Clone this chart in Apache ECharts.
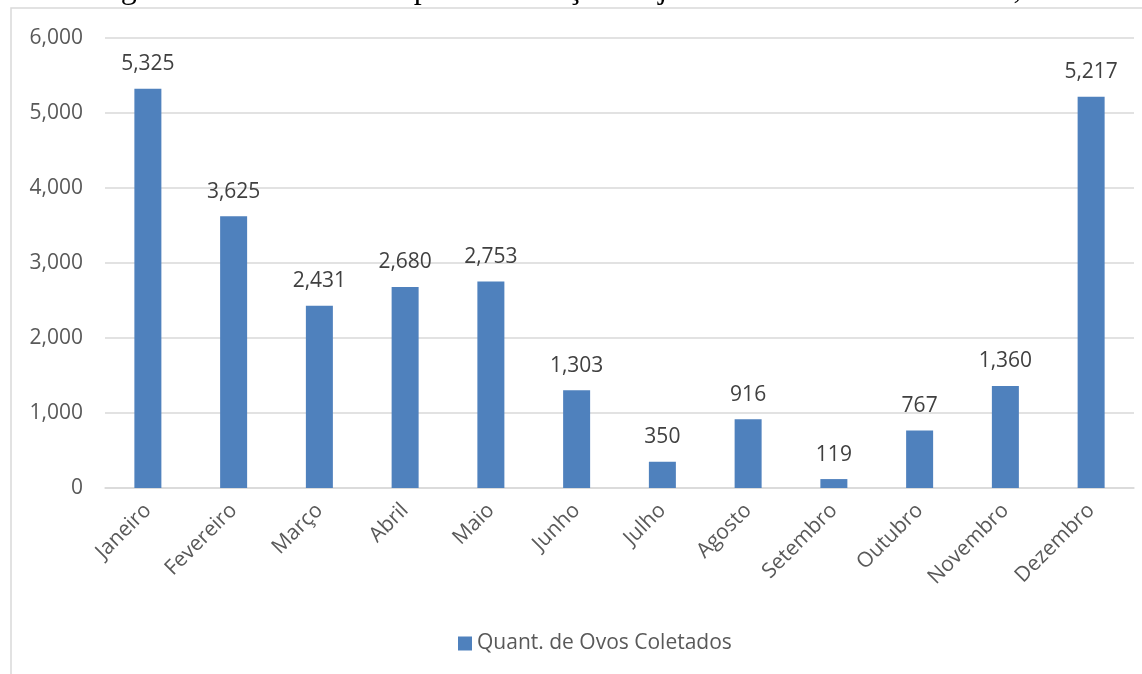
<!DOCTYPE html>
<html>
<head>
<meta charset="utf-8">
<script src="https://cdn.jsdelivr.net/npm/echarts@6/dist/echarts.min.js"></script>
<style>
  html, body { margin: 0; padding: 0; background: #fff; }
  #main { width: 1142px; height: 674px; }
</style>
</head>
<body>
<div id="main"></div>
<script>
var meses = ['Janeiro', 'Fevereiro', 'Março', 'Abril', 'Maio', 'Junho',
  'Julho', 'Agosto', 'Setembro', 'Outubro', 'Novembro', 'Dezembro']
var ovos = [5325, 3625, 2431, 2680, 2753, 1303, 350, 916, 119, 767, 1360, 5217]
var serieNome = 'Quant. de Ovos Coletados'
var legenda = 'a Contagem de ovos realizada pela associação de janeiro a dezembro de 2023, no na'

var fonte = '"Open Sans", "Noto Sans", sans-serif'
var fmt = function (v) {
  return String(v).replace(/\B(?=(\d{3})+(?!\d))/g, ',')
}

var chartDom = document.getElementById('main')
var myChart = echarts.init(chartDom)
var option

option = {
  backgroundColor: '#ffffff',
  animation: false,
  textStyle: { fontFamily: fonte },
  graphic: [
    {
      type: 'rect',
      shape: { x: 11, y: 8, width: 1200, height: 720 },
      style: { fill: 'none', stroke: '#d9d9d9', lineWidth: 1.5 },
      silent: true,
    },
    {
      type: 'text',
      left: 22,
      top: -26,
      style: {
        text: legenda,
        font: '32px "Liberation Serif", serif',
        fill: '#000000',
      },
      silent: true,
    },
  ],
  grid: {
    left: 105,
    right: 8,
    top: 38,
    bottom: 186,
    containLabel: false,
  },
  legend: {
    left: 453,
    top: 628,
    icon: 'rect',
    itemWidth: 14,
    itemHeight: 14,
    textStyle: { color: '#595959', fontSize: 21, fontFamily: fonte },
    data: [serieNome],
  },
  xAxis: {
    type: 'category',
    data: meses,
    axisLine: { lineStyle: { color: '#d9d9d9', width: 1.5 } },
    axisTick: { show: false },
    axisLabel: {
      rotate: 45,
      interval: 0,
      margin: 19,
      color: '#595959',
      fontSize: 21,
      fontFamily: fonte,
    },
  },
  yAxis: {
    type: 'value',
    min: 0,
    max: 6000,
    interval: 1000,
    axisLine: { show: false },
    axisTick: { show: false },
    splitLine: { lineStyle: { color: '#d9d9d9', width: 1.5 } },
    axisLabel: {
      color: '#595959',
      fontSize: 21,
      margin: 22,
      fontFamily: fonte,
      formatter: fmt,
    },
  },
  series: [
    {
      name: serieNome,
      type: 'bar',
      data: ovos,
      barWidth: 27,
      itemStyle: { color: '#4f81bd' },
      label: {
        show: true,
        position: 'top',
        distance: 14,
        color: '#404040',
        fontSize: 21,
        fontFamily: fonte,
        formatter: function (p) { return fmt(p.value) },
      },
    },
  ],
}

option && myChart.setOption(option)
</script>
</body>
</html>
